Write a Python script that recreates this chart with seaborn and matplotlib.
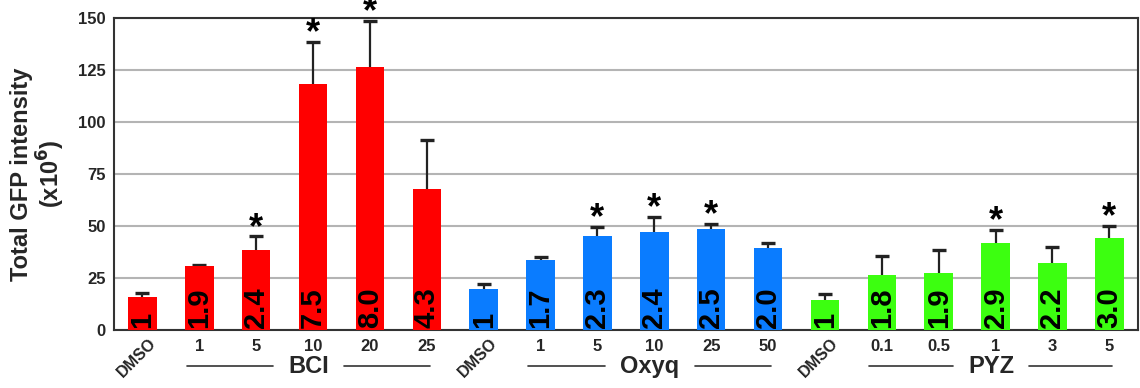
import numpy as np
import pandas as pd
import matplotlib
matplotlib.use('Agg')
import matplotlib.pyplot as plt
import seaborn as sns

# values
groups = ['BCI', 'Oxyq', 'PYZ']
doses = {
    'BCI': ['DMSO', '1', '5', '10', '20', '25'],
    'Oxyq': ['DMSO', '1', '5', '10', '25', '50'],
    'PYZ': ['DMSO', '0.1', '0.5', '1', '3', '5'],
}
means = {
    'BCI': [16, 30.8, 38.5, 118, 126.5, 68],
    'Oxyq': [19.8, 33.8, 45, 47.3, 48.7, 39.5],
    'PYZ': [14.6, 26.4, 27.4, 41.8, 32.3, 44.3],
}
err_top = {
    'BCI': [18, 31.2, 45, 138.5, 148.5, 91.5],
    'Oxyq': [22, 35, 49.5, 54.5, 51, 42],
    'PYZ': [17.5, 35.5, 38.5, 48, 40, 50],
}
fold = {
    'BCI': ['1', '1.9', '2.4', '7.5', '8.0', '4.3'],
    'Oxyq': ['1', '1.7', '2.3', '2.4', '2.5', '2.0'],
    'PYZ': ['1', '1.8', '1.9', '2.9', '2.2', '3.0'],
}
signif = {
    'BCI': [0, 0, 1, 1, 1, 0],
    'Oxyq': [0, 0, 1, 1, 1, 0],
    'PYZ': [0, 0, 0, 1, 0, 1],
}
colors = {'BCI': '#ff0000', 'Oxyq': '#0a7cff', 'PYZ': '#3cff10'}

rows = []
for g in groups:
    for i in range(6):
        rows.append({'group': g, 'dose': doses[g][i], 'mean': means[g][i],
                     'top': err_top[g][i], 'fold': fold[g][i], 'sig': signif[g][i]})
df = pd.DataFrame(rows)
df['slot'] = [str(i) for i in range(len(df))]

sns.set_style('white')
plt.rcParams['font.family'] = ['Liberation Sans', 'DejaVu Sans']
plt.rcParams['font.weight'] = 'bold'

fig = plt.figure(figsize=(11.4, 3.88), dpi=100)
ax = fig.add_axes([0.1, 0.149, 0.898, 0.805])

sns.barplot(data=df, x='slot', y='mean', hue='group', palette=colors,
            order=list(df['slot']), dodge=False, width=0.5, errorbar=None,
            legend=False, saturation=1, edgecolor='none', ax=ax, zorder=3)

xs = np.arange(len(df))
# upper-only error bars
ax.vlines(xs, df['mean'], df['top'], color='#222222', lw=1.6, zorder=2)
ax.plot(xs, df['top'], ls='none', marker='_', ms=10, mew=2.4, color='#222222', zorder=2)

for x, r in zip(xs, df.itertuples()):
    ax.text(x, 1.0, r.fold, rotation=90, ha='center', va='bottom',
            fontsize=21, fontweight='bold', color='black', zorder=4)
    if r.sig:
        ax.text(x, r.top - 4.5, '*', ha='center', va='bottom',
                fontsize=26, fontweight='bold', color='black', zorder=4, clip_on=False)

ax.set_ylim(0, 150)
ax.set_xlim(-0.5, len(df) - 0.5)
ax.set_yticks([0, 25, 50, 75, 100, 125, 150])
ax.set_yticklabels(['0', '25', '50', '75', '100', '125', '150'], fontsize=12, fontweight='bold')
ax.yaxis.grid(True, color='#b4b4b4', linewidth=1.5, zorder=0)
ax.set_axisbelow(True)
ax.tick_params(axis='both', length=0, pad=6)
for s in ax.spines.values():
    s.set_color('#333333')
    s.set_linewidth(1.5)

ax.set_xticks(xs)
labels = ['' if d == 'DMSO' else d for d in df['dose']]
ax.set_xticklabels(labels, fontsize=12, fontweight='bold')
for x, r in zip(xs, df.itertuples()):
    if r.dose == 'DMSO':
        ax.text(x + 0.1, -2.5, 'DMSO', rotation=45, ha='right', va='top',
                rotation_mode='anchor', fontsize=11.5, fontweight='bold',
                clip_on=False)

ax.set_xlabel('')
ax.set_ylabel('Total GFP intensity\n(x10$^{\\mathbf{6}}$)', fontsize=17, fontweight='bold',
              labelpad=8, linespacing=1.05)

# group labels flanked by lines
trans = ax.get_xaxis_transform()
fig.canvas.draw()
renderer = fig.canvas.get_renderer()
inv = ax.transData.inverted()
for gi, g in enumerate(groups):
    base = gi * 6
    x0, x1 = base + 0.78, base + 5.05
    xc = base + 2.92
    t = ax.text(xc, -0.115, g, ha='center', va='center', fontsize=17,
                fontweight='bold', transform=trans)
    bb = t.get_window_extent(renderer)
    half = (inv.transform((bb.x1, 0))[0] - inv.transform((bb.x0, 0))[0]) / 2 + 0.27
    ax.plot([x0, xc - half], [-0.115, -0.115], color='#333333', lw=1.2,
            transform=trans, clip_on=False)
    ax.plot([xc + half, x1], [-0.115, -0.115], color='#333333', lw=1.2,
            transform=trans, clip_on=False)

fig.savefig('out.png', dpi=100)
